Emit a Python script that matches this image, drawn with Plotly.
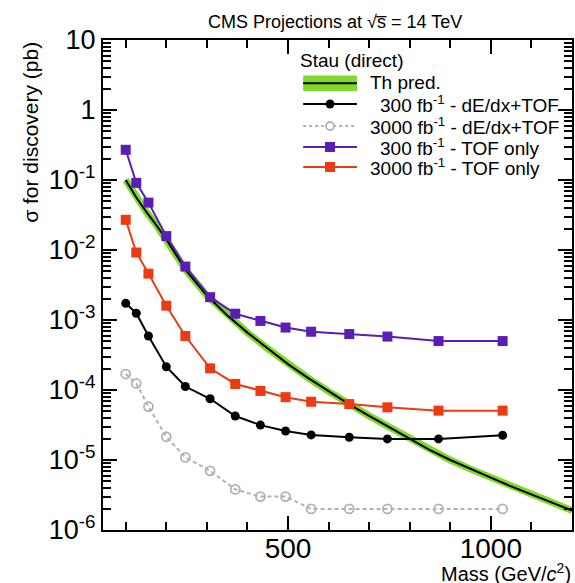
import plotly.graph_objects as go

# Stau (direct) discovery reach, CMS projections at 14 TeV
mass = [100, 126, 156, 200, 247, 308, 370, 432, 494, 557, 651, 745, 871, 1029]

sig_300_dedx_tof = [0.00173, 0.00125, 0.00059, 0.000215, 0.000112, 0.000075, 0.0000425,
                    0.0000315, 0.000026, 0.0000228, 0.0000211, 0.0000200, 0.0000200, 0.0000225]
sig_3000_dedx_tof = [0.000169, 0.000124, 0.000058, 0.0000215, 0.0000109, 0.0000070, 0.0000038,
                     0.0000030, 0.0000030, 0.0000020, 0.0000020, 0.0000020, 0.0000020, 0.0000020]
sig_300_tof = [0.27, 0.091, 0.0475, 0.0158, 0.0058, 0.00212, 0.00123, 0.00097, 0.00078,
               0.00068, 0.00063, 0.00058, 0.00050, 0.00050]
sig_3000_tof = [0.027, 0.0092, 0.0046, 0.0016, 0.00059, 0.000204, 0.000122, 0.000097,
                0.000079, 0.000068, 0.000063, 0.0000565, 0.0000507, 0.0000507]

# theory prediction (NLO)
th_mass = [100, 125, 150, 175, 200, 250, 300, 350, 400, 450, 500, 550, 600, 650, 700,
           750, 800, 850, 900, 950, 1000, 1050, 1100, 1150, 1200]
th_sigma = [0.100, 0.0575, 0.0355, 0.0229, 0.0141, 0.0050, 0.00224, 0.00117, 0.00066,
            0.00039, 0.000234, 0.000148, 0.0000955, 0.000063, 0.0000427, 0.0000295,
            0.0000204, 0.0000138, 0.0000100, 0.0000074, 0.0000056, 0.0000042, 0.0000032,
            0.0000025, 0.0000019]

y_tick_vals = [1e-6, 1e-5, 1e-4, 1e-3, 1e-2, 1e-1, 1, 10]
y_tick_text = ["10<sup>-6</sup>", "10<sup>-5</sup>", "10<sup>-4</sup>", "10<sup>-3</sup>",
               "10<sup>-2</sup>", "10<sup>-1</sup>", "1", "10"]
x_tick_vals = [500, 1000]
x_tick_text = ["500", "1000"]
y_minor_vals = [k * 10.0 ** e for e in range(-6, 1) for k in range(2, 10)]

X_RANGE = [44, 1200]
Y_DECADES = [-6, 1]

PURPLE = "#5a1eb4"
RED = "#ec3a12"
GRAY = "#b2b2b2"
GREEN = "#80d82a"
FONT = "Liberation Sans"
GRAY_DASH = "4px,3px"

W, H = 575, 583
ML, MR, MT, MB = 103, 1, 40, 53
PW, PH = W - ML - MR, H - MT - MB


def fx(px):
    return (px - ML) / PW


def fy(py):
    return (H - MB - py) / PH


fig = go.Figure()

# theory: green band drawn as a broad stroke, central value on top
fig.add_trace(go.Scatter(x=th_mass, y=th_sigma, mode="lines", line=dict(width=7, color=GREEN),
                         showlegend=False, hoverinfo="skip"))
fig.add_trace(go.Scatter(x=th_mass, y=th_sigma, mode="lines", line=dict(width=2, color="black"),
                         showlegend=False))

series = [
    (sig_3000_dedx_tof, GRAY, GRAY_DASH,
     dict(symbol="circle-open", size=9, color=GRAY, line=dict(width=1.8, color=GRAY))),
    (sig_300_dedx_tof, "black", "solid", dict(symbol="circle", size=9, color="black")),
    (sig_3000_tof, RED, "solid", dict(symbol="square", size=10, color=RED)),
    (sig_300_tof, PURPLE, "solid", dict(symbol="square", size=10, color=PURPLE)),
]
for vals, col, dash, mk in series:
    fig.add_trace(go.Scatter(x=mass, y=vals, mode="lines+markers",
                             line=dict(color=col, width=2, dash=dash), marker=mk,
                             showlegend=False))

# hand-built legend block
LEG_FONT = dict(size=19, family=FONT, color="black")
leg_x0, leg_xm, leg_x1 = 304, 331, 358
rows = [
    (104, "black", "solid", "circle", "black", 379, "300 fb<sup>-1</sup> - dE/dx+TOF"),
    (126, GRAY, "dash", "circle-open", GRAY, 369, "3000 fb<sup>-1</sup> - dE/dx+TOF"),
    (147, PURPLE, "solid", "square", PURPLE, 379, "300 fb<sup>-1</sup> - TOF only"),
    (167, RED, "solid", "square", RED, 369, "3000 fb<sup>-1</sup> - TOF only"),
]
shapes = [
    dict(type="rect", xref="paper", yref="paper", x0=fx(leg_x0), x1=fx(leg_x1),
         y0=fy(91), y1=fy(75.5), fillcolor=GREEN, line=dict(width=0)),
    dict(type="line", xref="paper", yref="paper", x0=fx(leg_x0), x1=fx(leg_x1),
         y0=fy(83.3), y1=fy(83.3), line=dict(color="black", width=2)),
]
annotations = []
for ry, col, dash, sym, mcol, lx, label in rows:
    shapes.append(dict(type="line", xref="paper", yref="paper", x0=fx(leg_x0), x1=fx(leg_x1),
                       y0=fy(ry), y1=fy(ry),
                       line=dict(color=col, width=2, dash=("3px,3px" if dash == "dash" else "solid"))))
    if sym == "square":
        shapes.append(dict(type="rect", xref="paper", yref="paper", xsizemode="pixel",
                           ysizemode="pixel", xanchor=fx(leg_xm), yanchor=fy(ry),
                           x0=-5, x1=5, y0=-5, y1=5, fillcolor=mcol, line=dict(width=0)))
    elif sym == "circle":
        shapes.append(dict(type="circle", xref="paper", yref="paper", xsizemode="pixel",
                           ysizemode="pixel", xanchor=fx(leg_xm), yanchor=fy(ry),
                           x0=-4.5, x1=4.5, y0=-4.5, y1=4.5, fillcolor=mcol,
                           line=dict(width=0)))
    else:
        shapes.append(dict(type="circle", xref="paper", yref="paper", xsizemode="pixel",
                           ysizemode="pixel", xanchor=fx(leg_xm), yanchor=fy(ry),
                           x0=-4, x1=4, y0=-4, y1=4, fillcolor="white",
                           line=dict(width=1.8, color=mcol)))
    annotations.append(dict(x=fx(lx), y=fy(ry), xref="paper", yref="paper", text=label,
                            showarrow=False, xanchor="left", yanchor="middle", font=LEG_FONT))

annotations += [
    dict(x=fx(369), y=fy(82), xref="paper", yref="paper", text="Th pred.", showarrow=False,
         xanchor="left", yanchor="middle", font=LEG_FONT),
    dict(x=fx(299), y=fy(61), xref="paper", yref="paper", text="Stau (direct)", showarrow=False,
         xanchor="left", yanchor="middle", font=LEG_FONT),
    dict(x=fx(336), y=fy(21.5), xref="paper", yref="paper",
         text="CMS Projections at \u221as\u0305 = 14 TeV", showarrow=False,
         xanchor="center", yanchor="middle", font=dict(size=18, family=FONT, color="black")),
    dict(x=1, y=fy(572), xref="paper", yref="paper", text="Mass (GeV/<i>c</i><sup>2</sup>)",
         showarrow=False, xanchor="right", yanchor="middle", xshift=1,
         font=dict(size=20, family=FONT, color="black")),
    dict(x=fx(30), y=1, xref="paper", yref="paper", text="\u03c3 for discovery (pb)",
         showarrow=False, textangle=-90, xanchor="center", yanchor="top",
         font=dict(size=21, family=FONT, color="black")),
]

fig.update_layout(
    width=W, height=H,
    margin=dict(l=ML, r=MR, t=MT, b=MB),
    plot_bgcolor="white",
    xaxis=dict(range=X_RANGE, tickmode="array", tickvals=x_tick_vals, ticktext=x_tick_text,
               ticks="inside", ticklen=14, tickwidth=2, tickcolor="black",
               ticklabelstandoff=-8, showline=True, linecolor="black", linewidth=2,
               mirror="allticks", showgrid=False, zeroline=False,
               tickfont=dict(size=28, family=FONT, color="black"),
               minor=dict(tickmode="linear", tick0=0, dtick=100, ticks="inside", ticklen=8,
                          tickwidth=2, tickcolor="black", showgrid=False)),
    yaxis=dict(type="log", range=Y_DECADES, tickmode="array", tickvals=y_tick_vals,
               ticktext=y_tick_text, ticks="inside", ticklen=14, tickwidth=2,
               tickcolor="black", showline=True, linecolor="black", linewidth=2,
               mirror="allticks", showgrid=False, zeroline=False,
               tickfont=dict(size=27, family=FONT, color="black"),
               minor=dict(tickmode="array", tickvals=y_minor_vals, ticks="inside", ticklen=8,
                          tickwidth=2, tickcolor="black", showgrid=False)),
    shapes=shapes,
    annotations=annotations,
    showlegend=False,
)

fig.write_html("out.html")
